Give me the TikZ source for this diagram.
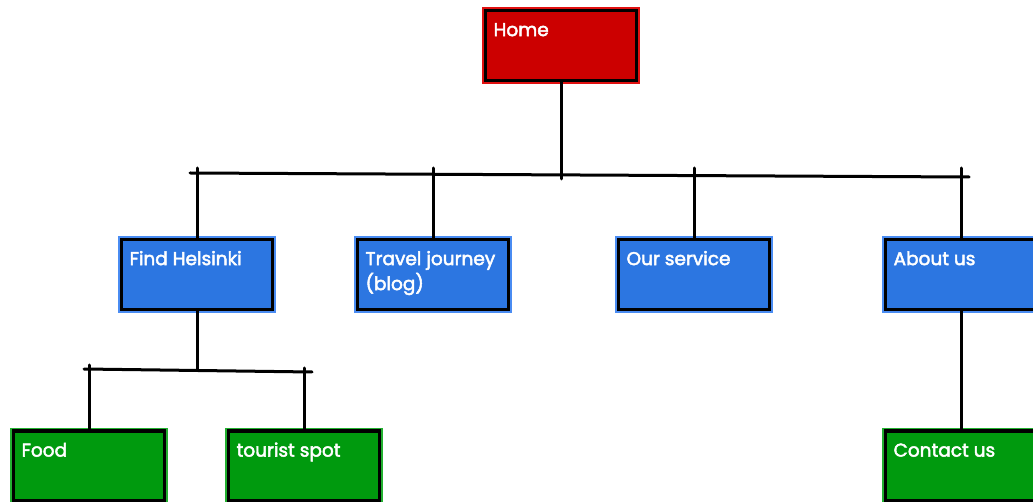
\documentclass[tikz,border=0pt]{standalone}
\usepackage{fontspec}
\setmainfont{Poppins}
\newfontfamily\lblfont{Poppins}[FakeBold=2.5]
\definecolor{redF}{HTML}{CC0000}
\definecolor{redL}{HTML}{E01010}
\definecolor{blueF}{HTML}{2C76E1}
\definecolor{blueL}{HTML}{4A8CF2}
\definecolor{greenF}{HTML}{009A0E}
\definecolor{greenL}{HTML}{22B030}
\begin{document}
\begin{tikzpicture}[x=1pt,y=-1pt,
  box/.style 2 args={draw=black, line width=3.2pt, fill=#1,
    preaction={draw=#2, line width=7pt},
    minimum width=151pt, minimum height=70pt, inner sep=0pt},
  lbl/.style={anchor=north west, inner sep=0pt, xshift=9.5pt, yshift=-14pt,
    text height=13pt, text=white, font=\lblfont\fontsize{18.5}{25}\selectfont, align=left},
  conn/.style={draw=black, line width=3pt, line cap=round}]
\useasboundingbox (0,0) rectangle (1033,502);
\begin{scope}
\clip (0,0) rectangle (1033,502);
\node[box={redF}{redL}, label={[lbl]north west:Home}] (home) at (561,45.5) {};
\node[box={blueF}{blueL}, label={[lbl]north west:Find Helsinki}] (fh) at (197,274.5) {};
\node[box={blueF}{blueL}, label={[lbl, text height=38pt]north west:Travel journey\\(blog)}] (tj) at (433,274.5) {};
\node[box={blueF}{blueL}, label={[lbl]north west:Our service}] (os) at (694,274.5) {};
\node[box={blueF}{blueL}, label={[lbl]north west:About us}] (au) at (961,274.5) {};
\node[box={greenF}{greenL}, label={[lbl]north west:Food}] (food) at (89,466) {};
\node[box={greenF}{greenL}, label={[lbl]north west:tourist spot}] (ts) at (304,466) {};
\node[box={greenF}{greenL}, label={[lbl]north west:Contact us}] (cu) at (961,466) {};

\coordinate (busL) at (190,173);
\coordinate (busR) at (969,177);
\coordinate (bus2L) at (84,369);
\coordinate (bus2R) at (312,372);

\draw[conn] (home.south) -- ([yshift=-6pt]home.south |- busL);
\draw[conn] (busL) -- (busR);
\foreach \n in {fh,tj,os,au}{
  \draw[conn] (\n.north) -- ([yshift=5pt]\n.north |- busL);
}
\draw[conn] (fh.south) -- (fh.south |- bus2L);
\draw[conn] (bus2L) -- (bus2R);
\draw[conn] (food.north) -- ([yshift=4pt]food.north |- bus2L);
\draw[conn] (ts.north) -- ([yshift=4pt]ts.north |- bus2R);
\draw[conn] (au.south) -- (cu.north);
\end{scope}
\end{tikzpicture}
\end{document}
